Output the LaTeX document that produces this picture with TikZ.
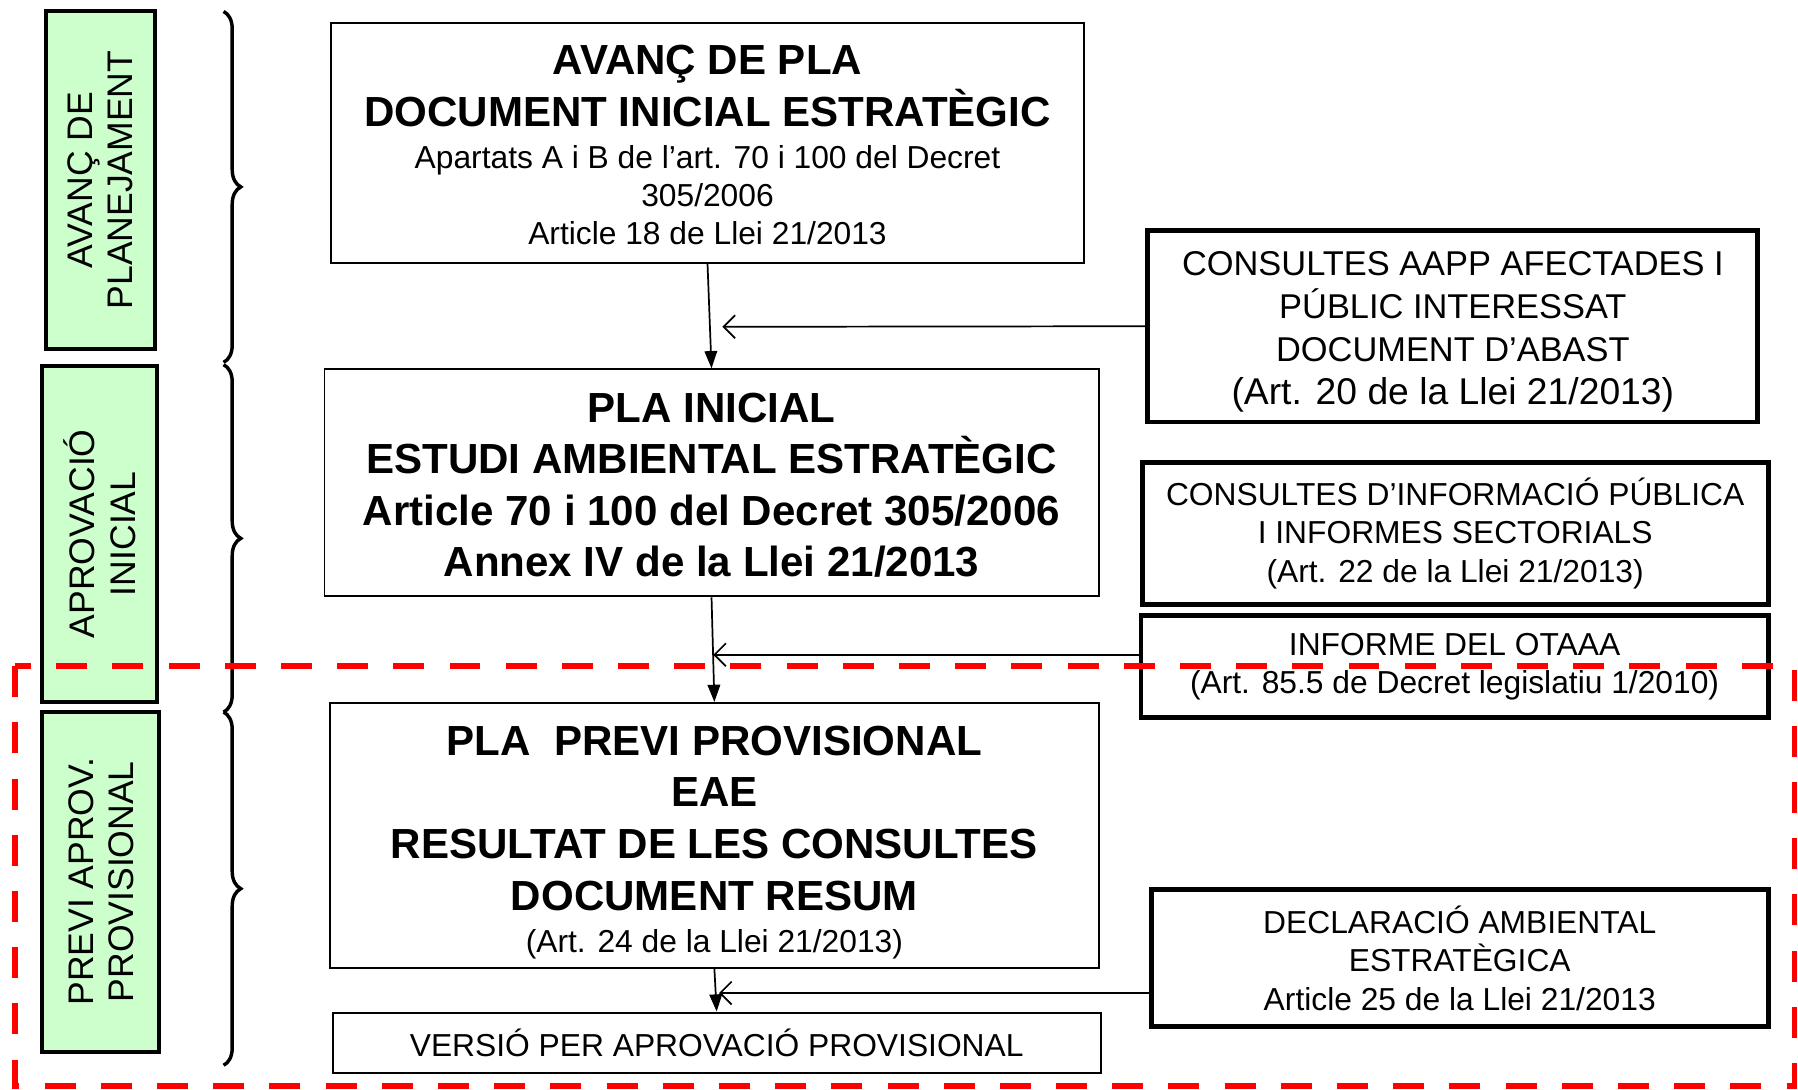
\documentclass[tikz,border=0pt]{standalone}
\usepackage{fontspec}
\setmainfont{Liberation Sans}
\usetikzlibrary{arrows.meta,decorations.pathreplacing}
\definecolor{phasegreen}{RGB}{204,255,204}
\definecolor{dashred}{RGB}{255,0,0}
\newcommand\BoldL{\fontsize{36.7}{45}\selectfont\bfseries}
\newcommand\RegL{\fontsize{27.7}{33}\selectfont\mdseries}
\begin{document}
\begin{tikzpicture}[x=1pt,y=-1pt,
  box/.style={draw, line width=1.7pt, inner sep=0pt, align=center},
  sidebox/.style={draw, line width=4.2pt, inner sep=0pt, align=center},
  phase/.style={draw, line width=3.5pt, fill=phasegreen, inner sep=0pt, align=center,
    rotate=90, font=\fontsize{31}{35}\selectfont},
  flow/.style={line width=1.5pt, -{Triangle[length=15pt,width=11pt]}},
  feed/.style={line width=1.5pt, -{Straight Barb[length=10pt,width=20pt,line width=1.5pt]}},
  phasebrace/.style={decorate, decoration={brace, amplitude=15pt}, line width=3pt},
  region/.style={draw=dashred, line width=5pt, dash pattern=on 27pt off 22pt}
]
\useasboundingbox (0,0) rectangle (1568,950);

% phase boxes
\node[phase, minimum width=294, minimum height=95] (P1) at (87.5,157) {AVANÇ DE\\PLANEJAMENT};
\node[phase, minimum width=293, minimum height=100] (P2) at (87,465.5) {APROVACIÓ\\INICIAL};
\node[phase, minimum width=296, minimum height=102] (P3) at (88,769) {PREVI APROV.\\PROVISIONAL};

% braces
\coordinate (b1t) at (195,10);   \coordinate (b1b) at (195,316);
\coordinate (b2t) at (195,318);  \coordinate (b2b) at (195,621);
\coordinate (b3t) at (195,621);  \coordinate (b3b) at (195,929);
\draw[phasebrace] (b1t) -- (b1b);
\draw[phasebrace] (b2t) -- (b2b);
\draw[phasebrace] (b3t) -- (b3b);

% main boxes
\node[box, minimum width=656, minimum height=209, font=\fontsize{27.7}{45}\selectfont] (A) at (617,124.5)
  {{\BoldL\rule{0pt}{30pt}AVANÇ DE PLA}\\{\BoldL DOCUMENT INICIAL ESTRATÈGIC}\\[-8pt]
   Apartats A i B de l’art. 70 i 100 del Decret\\[-12pt]
   305/2006\\[-12pt]
   Article 18 de Llei 21/2013};
\node[box, minimum width=675, minimum height=198, font=\BoldL] (B) at (620.5,421)
  {\rule{0pt}{30pt}PLA INICIAL\\ESTUDI AMBIENTAL ESTRATÈGIC\\Article 70 i 100 del Decret 305/2006\\Annex IV de la Llei 21/2013};
\node[box, minimum width=670, minimum height=231, font=\BoldL] (C) at (623,728.5)
  {\rule{0pt}{38pt}PLA\ \ PREVI PROVISIONAL\\EAE\\RESULTAT DE LES CONSULTES\\DOCUMENT RESUM\\[-8pt]
   {\RegL (Art. 24 de la Llei 21/2013)}};
\node[box, minimum width=670, minimum height=53, font=\RegL] (D) at (625,909.5)
  {VERSIÓ PER APROVACIÓ PROVISIONAL};

% side boxes
\node[sidebox, minimum width=532, minimum height=167, font=\fontsize{30}{37.5}\selectfont] (R1) at (1267,284.5)
  {\rule{0pt}{30pt}CONSULTES AAPP AFECTADES I\\PÚBLIC INTERESSAT\\DOCUMENT D’ABAST\\
   {\fontsize{32.5}{37}\selectfont (Art. 20 de la Llei 21/2013)}};
\node[sidebox, minimum width=546, minimum height=124, font=\fontsize{27.7}{33.5}\selectfont] (R2) at (1269,465)
  {CONSULTES D’INFORMACIÓ PÚBLICA\\I INFORMES SECTORIALS\\(Art. 22 de la Llei 21/2013)};
\node[sidebox, minimum width=547, minimum height=89, font=\RegL] (R3) at (1268.5,581.5)
  {INFORME DEL OTAAA\\(Art. 85.5 de Decret legislatiu 1/2010)};
\node[sidebox, minimum width=538, minimum height=119, font=\fontsize{27.7}{33.5}\selectfont] (R4) at (1273,835.5)
  {DECLARACIÓ AMBIENTAL\\ESTRATÈGICA\\Article 25 de la Llei 21/2013};

% connectors
\draw[flow] (A.south) -- (B.north);
\draw[flow] (B.south) -- (C.north);
\draw[flow] (C.south) -- (D.north);

\coordinate (t1) at (630,285);
\coordinate (t3) at (622,571);
\coordinate (t4) at (627,866);
\draw[feed] (R1.west) -- (t1);
\draw[feed] (R3.west |- t3) -- (t3);
\draw[feed] (R4.west |- t4) -- (t4);

% dashed region
\draw[region] (13,581) -- (13,947) -- (1565,947) -- (1565,581) -- cycle;
\end{tikzpicture}
\end{document}
